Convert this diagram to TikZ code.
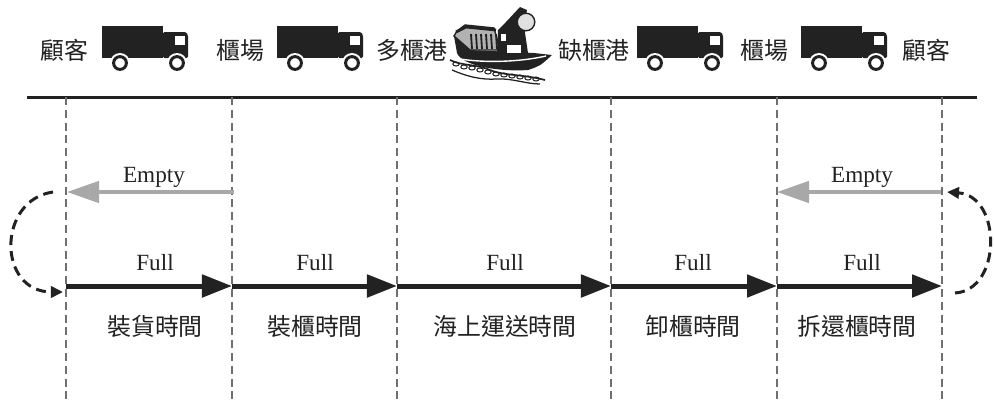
\documentclass[tikz,border=0pt]{standalone}
\usepackage{fontspec}
\setmainfont{Liberation Serif}
\newfontfamily\cjk{Noto Sans CJK TC}
\usetikzlibrary{arrows.meta}

\definecolor{ink}{HTML}{222222}
\definecolor{postgray}{HTML}{707070}
\definecolor{emptygray}{HTML}{A8A8A8}

% small lorry, origin at the top-left corner of its box
\tikzset{
  lorry/.pic={
    \fill[ink] (0,0) rectangle (61,32);
    \fill[ink, rounded corners=1pt] (61,32) -- (61,6) -- (84,6) -- (86,9) -- (86,32) -- cycle;
    \fill[white] (73,10) rectangle (83,19);
    \foreach \wx in {18,75} {
      \fill[white] (\wx,37) circle (0.25cm);
      \draw[ink, fill=white, line width=0.075cm] (\wx,37) circle (0.16cm);
    }
  }
}

\begin{document}
\begin{tikzpicture}[x=0.025cm, y=-0.025cm,
    cjklbl/.style = {font=\cjk\fontsize{17}{20}\selectfont, text=ink, inner sep=0pt},
    latlbl/.style = {font=\fontsize{16.5}{19}\selectfont, text=ink, inner sep=0pt},
    post/.style = {postgray, line width=0.04cm, dash pattern=on 0.2cm off 0.12cm},
    timeline/.style = {ink, line width=0.075cm},
    full/.style = {ink, line width=0.125cm, -{Triangle[length=0.75cm, width=0.55cm]}},
    empty/.style = {emptygray, line width=0.1cm, -{Triangle[length=0.8cm, width=0.53cm]}},
    turn/.style = {ink, line width=0.075cm, dash pattern=on 0.25cm off 0.15cm,
                   -{Triangle[length=0.3cm, width=0.28cm]}}]
  \useasboundingbox (0,0) rectangle (994,403);

  % places along the top
  \node[cjklbl] (cust1) at (64,50) {顧客};
  \pic at (102,26) {lorry};
  \node[cjklbl] (yard1) at (240,50) {櫃場};
  \pic at (277,26) {lorry};
  \node[cjklbl] (portA) at (412,50) {多櫃港};
  \node[cjklbl] (portB) at (594,50) {缺櫃港};
  \pic at (637,26) {lorry};
  \node[cjklbl] (yard2) at (764,50) {櫃場};
  \pic at (801,26) {lorry};
  \node[cjklbl] (cust2) at (926,50) {顧客};

  % ship between the two ports
  \begin{scope}
    % water with a chain of foam
    \draw[ink, line width=1.2pt] (450,60) .. controls (462,66) and (476,64) .. (490,70)
      .. controls (505,76) and (522,74) .. (545,80);
    \draw[ink, line width=0.9pt] (452,70) .. controls (466,76) and (480,80) .. (496,79)
      .. controls (512,78) and (526,84) .. (540,84);
    \foreach \cx/\cy in {456/64,464/67,472/68,480/70,488/72,496/74,504/75,512/76,520/77,528/78,536/79}
      \draw[ink, line width=0.7pt] (\cx,\cy) ellipse (0.08cm and 0.05cm);
    % hull
    \fill[ink] (454,36) -- (457,53) .. controls (462,66) and (500,72) .. (528,70)
      .. controls (540,66) .. (552,55) -- (534,53) -- (470,50) -- cycle;
    \draw[white, line width=1pt] (460,59) .. controls (485,63) and (520,62) .. (546,56);
    % deck house with its rails
    \filldraw[fill=black!30, draw=ink, line width=1pt] (454,36) -- (457,31) -- (465,25)
      -- (494,28) -- (500,50) -- (470,50) -- cycle;
    \draw[ink, line width=2pt] (456,32) -- (466,27) -- (496,30);
    \foreach \bx in {471,476,...,496}
      \draw[ink, line width=1.3pt] (\bx,34) -- (\bx+1,49);
    % bridge, mast and lamp
    \fill[ink] (497,53) -- (498,30) -- (506,22) -- (520,7) -- (527,10) -- (524,26)
      -- (528,53) -- cycle;
    \fill[white] (507,45) rectangle (521,53);
    \fill[white] (501,34) rectangle (506,41);
    \filldraw[fill=black!12, draw=ink, line width=1pt] (526,22) circle (0.22cm);
  \end{scope}

  % time axis and the dashed posts below it
  \coordinate (lineL) at (27,97);
  \coordinate (lineR) at (977,97);
  \draw[timeline] (lineL) -- (lineR);
  \foreach \i/\x in {1/66,2/232,3/397,4/611,5/777,6/942} {
    \coordinate (top\i) at (\x,97);
    \coordinate (bot\i) at (\x,403);
    \coordinate (f\i) at (\x,286);
    \draw[post] (top\i) -- (bot\i);
  }

  % loaded legs
  \foreach \a/\b in {1/2,2/3,3/4,4/5,5/6}
    \draw[full] (f\a) -- (f\b);
  \foreach \i/\x in {1/155,2/315,3/505,4/693,5/862}
    \node[latlbl] (full\i) at (\x,263) {Full};

  % empty legs
  \coordinate (eL1) at (234,192);
  \coordinate (eL0) at (67,192);
  \coordinate (eR1) at (941,192);
  \coordinate (eR0) at (777,192);
  \draw[empty] (eL1) -- (eL0);
  \draw[empty] (eR1) -- (eR0);
  \node[latlbl] (emptyL) at (154,177) {Empty};
  \node[latlbl] (emptyR) at (862,177) {Empty};

  % turning back at the customers
  \coordinate (tL0) at (53,192);
  \coordinate (tL1) at (63,292);
  \coordinate (tR0) at (955,293);
  \coordinate (tR1) at (947,192);
  \draw[turn] (tL0) .. controls (-3,200) and (-3,292) .. (tL1);
  \draw[turn] (tR0) .. controls (1002,290) and (1002,196) .. (tR1);

  % durations
  \node[cjklbl] (dur1) at (155,326) {裝貨時間};
  \node[cjklbl] (dur2) at (315,326) {裝櫃時間};
  \node[cjklbl] (dur3) at (505,326) {海上運送時間};
  \node[cjklbl] (dur4) at (693,326) {卸櫃時間};
  \node[cjklbl] (dur5) at (857,326) {拆還櫃時間};
\end{tikzpicture}
\end{document}
